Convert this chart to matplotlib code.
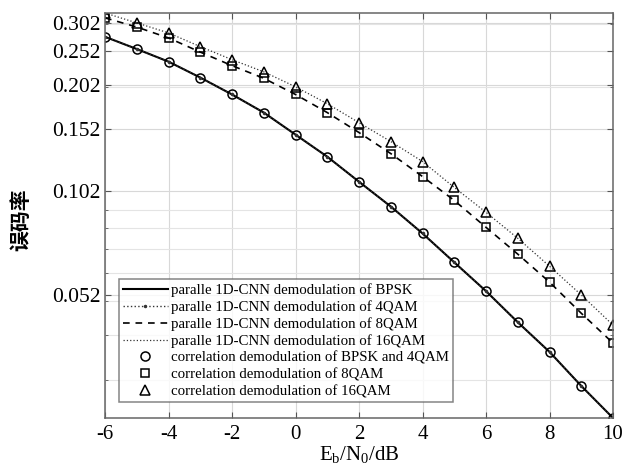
import numpy as np
import matplotlib.pyplot as plt
from matplotlib.ticker import FixedLocator, LogLocator, NullFormatter

plt.rcParams['font.family'] = ['Liberation Serif', 'DejaVu Serif']
plt.rcParams['mathtext.fontset'] = 'custom'
plt.rcParams['mathtext.rm'] = 'Liberation Serif'
plt.rcParams['mathtext.it'] = 'Liberation Serif'

snr = [-6, -5, -4, -3, -2, -1, 0, 1, 2, 3, 4, 5, 6, 7, 8, 9, 10]
ber_bpsk = [0.276, 0.255, 0.235, 0.212, 0.190, 0.169, 0.1465, 0.127, 0.108,
            0.092, 0.0773, 0.0641, 0.0532, 0.0435, 0.0359, 0.0288, 0.0234]
ber_4qam = ber_bpsk
ber_8qam = [0.312, 0.294, 0.274, 0.250, 0.229, 0.211, 0.190, 0.169, 0.1485,
            0.1296, 0.1117, 0.0957, 0.0804, 0.0676, 0.0564, 0.0461, 0.0380]
ber_16qam = [0.322, 0.302, 0.283, 0.259, 0.238, 0.220, 0.1997, 0.179, 0.1583,
             0.1401, 0.1231, 0.1041, 0.0886, 0.0749, 0.0625, 0.0519, 0.0427]

ytick_vals = [0.052, 0.102, 0.152, 0.202, 0.252, 0.302]
ytick_labels = ['0.052', '0.102', '0.152', '0.202', '0.252', '0.302']
xtick_vals = [-6, -4, -2, 0, 2, 4, 6, 8, 10]

fig = plt.figure(figsize=(6.35, 4.69), dpi=100)
ax = fig.add_axes([0.1654, 0.1087, 0.8, 0.8636])

ax.plot(snr, ber_bpsk, '-', color='black', lw=1.5,
        label='paralle 1D-CNN demodulation of BPSK')
ax.plot(snr, ber_4qam, ':', color='#333333', lw=1.0, marker='.', markersize=3,
        label='paralle 1D-CNN demodulation of 4QAM')
ax.plot(snr, ber_8qam, '--', color='black', lw=1.2, dashes=(4, 3.5),
        label='paralle 1D-CNN demodulation of 8QAM')
ax.plot(snr, ber_16qam, ':', color='#333333', lw=0.9,
        label='paralle 1D-CNN demodulation of 16QAM')
ax.plot(snr, ber_bpsk, 'o', mfc='none', mec='black', ms=6.5, mew=1.1, ls='none',
        label='correlation demodulation of BPSK and 4QAM')
ax.plot(snr, ber_8qam, 's', mfc='none', mec='black', ms=5.5, mew=1.1, ls='none',
        label='correlation demodulation of 8QAM')
ax.plot(snr, ber_16qam, '^', mfc='none', mec='black', ms=7.5, mew=1.1, ls='none',
        label='correlation demodulation of 16QAM')

ax.set_yscale('log')
ax.set_xlim(-6, 10)
ax.set_ylim(min(ber_bpsk), max(ber_16qam))

ax.yaxis.set_major_locator(FixedLocator(ytick_vals))
ax.set_yticklabels(ytick_labels)
ax.yaxis.set_minor_locator(LogLocator(base=10, subs=np.arange(2, 10)))
ax.yaxis.set_minor_formatter(NullFormatter())
ax.set_xticks(xtick_vals)
ax.set_xticklabels([str(v) for v in xtick_vals])

ax.grid(True, which='major', color='#d8d8d8', lw=0.8)
ax.grid(True, which='minor', axis='y', color='#e4e4e4', lw=0.8)
ax.set_axisbelow(True)

ax.tick_params(which='both', direction='in', top=True, right=True,
               colors='#555555', labelcolor='black')
ax.tick_params(axis='y', labelsize=15.5, pad=3)
ax.tick_params(axis='x', labelsize=15, pad=5)
ax.tick_params(which='major', length=4)
ax.tick_params(which='minor', length=2.5)
for s in ax.spines.values():
    s.set_color('#666666')
    s.set_linewidth(1.1)

ax.set_xlabel(r'E$_\mathrm{b}$/N$_0$/dB', fontsize=15, labelpad=0)
ax.set_ylabel('误码率', fontsize=15, fontweight='bold',
              family=['Noto Sans CJK SC', 'DejaVu Sans'])
ax.yaxis.set_label_coords(-0.145, 0.49)

leg = ax.legend(loc='lower left', fontsize=10.7, frameon=True, fancybox=False,
                edgecolor='#666666', handlelength=3.0, handletextpad=0.2,
                labelspacing=0.22, borderpad=0.3, bbox_to_anchor=(0.012, 0.02))
leg.get_frame().set_linewidth(1.1)

fig.savefig('out.png', dpi=100)
